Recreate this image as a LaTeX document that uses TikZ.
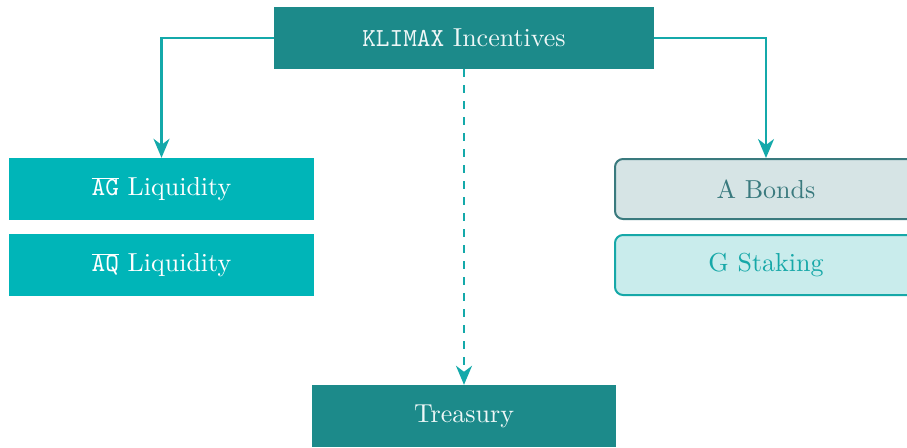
\documentclass[tikz,border=0pt]{standalone}
\usepackage{fontspec}
\setmainfont{lmroman10-regular.otf}
\setmonofont{lmmono10-regular.otf}
\usetikzlibrary{arrows.meta}
\definecolor{darkteal}{RGB}{28,138,138}
\definecolor{cyanbox}{RGB}{0,181,184}
\definecolor{arrowc}{RGB}{20,169,170}
\definecolor{bondfill}{RGB}{214,228,229}
\definecolor{bonddraw}{RGB}{58,122,126}
\definecolor{stakefill}{RGB}{201,236,236}
\definecolor{stakedraw}{RGB}{22,168,168}
\tikzset{
  basebox/.style={minimum width=304pt, minimum height=62pt, inner sep=0pt, font=\fontsize{26}{31}\selectfont},
  darkbox/.style={basebox, fill=darkteal, text=white!93!darkteal},
  cyanbx/.style={basebox, fill=cyanbox, text=white},
  bondbox/.style={basebox, minimum width=302pt, minimum height=60pt, rounded corners=8pt, fill=bondfill, draw=bonddraw, line width=2pt, text=bonddraw},
  stakebox/.style={basebox, minimum width=302pt, minimum height=60pt, rounded corners=8pt, fill=stakefill, draw=stakedraw, line width=2pt, text=stakedraw},
  conn/.style={draw=arrowc, line width=2.2pt, -{Stealth[length=19pt,width=16pt,inset=6pt]}},
}
\begin{document}
\begin{tikzpicture}[x=1pt,y=-1pt]
\useasboundingbox (0,0) rectangle (907,447);
\node[darkbox, minimum width=380pt] (k) at (464,38) {\texttt{KLIMAX} Incentives};
\node[cyanbx, minimum width=305pt] (ag) at (161.5,189) {$\overline{\mbox{\texttt{AG}}}$ Liquidity};
\node[cyanbx, minimum width=305pt] (aq) at (161.5,265) {$\overline{\mbox{\texttt{AQ}}}$ Liquidity};
\node[bondbox] (ab) at (766,189) {A Bonds};
\node[stakebox] (gs) at (766,265) {G Staking};
\node[darkbox] (tr) at (464,416) {Treasury};
\draw[conn] (k.west) -| (ag.north);
\draw[conn] (k.east) -| (ab.north);
\draw[conn, dash pattern=on 8pt off 8pt] (k.south) -- (tr.north);
\end{tikzpicture}
\end{document}
